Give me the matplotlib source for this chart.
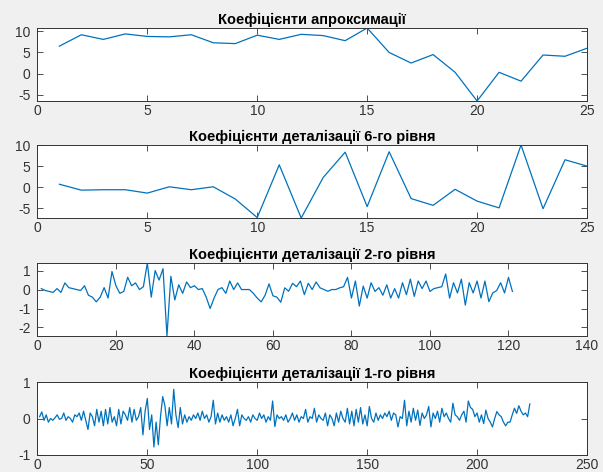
import numpy as np
import matplotlib
matplotlib.use("Agg")
import matplotlib.pyplot as plt

# Wavelet decomposition coefficients (db10, 6 levels)
approx = [6.5, 9.2, 8.1, 9.4, 8.8, 8.7, 9.2, 7.3, 7.1, 9.1,
          8.1, 9.3, 9.0, 7.8, 10.8, 5.0, 2.5, 4.5, 0.3, -6.5,
          0.3, -1.8, 4.4, 4.1, 6.0]

detail6 = [0.7, -0.7, -0.6, -0.6, -1.4, 0.1, -0.6, 0.1, -2.8, -7.2,
           5.3, -7.3, 2.3, 8.3, -4.6, 8.4, -2.7, -4.3, -0.5, -3.3,
           -4.9, 10.0, -5.1, 6.5, 5.0]

detail2 = [0.05, -0.05, -0.1, -0.15, 0.05, -0.15, 0.35, 0.1, 0.05, 0.0,
           -0.05, 0.2, -0.3, -0.4, -0.65, -0.4, 0.1, -0.45, 0.95, 0.2,
           -0.2, -0.1, 0.65, 0.2, 0.35, 0.0, 0.15, 1.4, -0.4, 1.0,
           0.5, 1.1, -2.45, 0.7, -0.55, 0.25, -0.2, 0.4, 0.1, 0.2,
           0.0, 0.05, -0.4, -1.0, -0.45, 0.0, 0.1, -0.2, 0.45, 0.0,
           0.35, 0.0, 0.0, 0.0, -0.2, -0.45, -0.65, -0.3, 0.3, -0.33,
           -0.4, -0.67, 0.09, -0.09, 0.33, 0.15, 0.45, -0.27, 0.33, 0.0,
           0.4, 0.09, 0.0, -0.09, 0.0, 0.0, 0.09, 0.15, 0.64, -0.45,
           0.45, -0.87, 0.18, -0.45, 0.36, -0.1, 0.1, -0.3, 0.25, -0.45,
           0.05, -0.45, 0.36, -0.27, 0.55, -0.36, 0.45, 0.05, 0.45, -0.1,
           0.05, 0.1, 0.15, 0.82, -0.45, 0.36, -0.18, 0.55, -0.82, 0.36,
           -0.18, 0.45, -0.45, 0.45, -0.64, -0.18, -0.05, 0.36, -0.18, 0.64,
           -0.1]

detail1 = [0.05, 0.18, -0.05, 0.1, -0.1, 0.0, -0.05, 0.02, 0.1, -0.02,
           0.0, 0.15, -0.05, 0.05, 0.0, -0.1, 0.1, 0.05, 0.15, -0.05,
           0.2, -0.05, -0.3, 0.15, 0.05, -0.2, 0.25, -0.1, 0.2, -0.2,
           0.25, -0.15, 0.3, -0.1, 0.05, -0.2, 0.25, -0.15, 0.2, 0.1,
           -0.05, 0.3, -0.1, 0.25, -0.05, 0.05, 0.3, -0.45, 0.2, 0.55,
           -0.3, 0.1, -0.78, -0.1, -0.72, 0.05, 0.6, 0.35, -0.2, 0.3,
           -0.15, 0.8, 0.1, -0.25, 0.3, -0.15, 0.1, -0.1, 0.05, -0.05,
           0.1, 0.0, 0.15, -0.05, 0.2, 0.0, 0.1, -0.1, 0.05, 0.5,
           -0.15, 0.15, -0.1, 0.1, -0.05, 0.05, -0.1, 0.1, -0.2, 0.0,
           0.25, -0.2, 0.1, 0.0, -0.05, 0.05, -0.1, 0.1, 0.0, -0.05,
           0.15, 0.0, 0.1, -0.1, 0.05, -0.05, 0.48, -0.22, 0.1, 0.0,
           0.05, -0.05, 0.1, -0.1, 0.0, 0.15, -0.05, 0.1, -0.1, 0.05,
           0.0, 0.25, -0.1, 0.05, 0.0, 0.28, -0.1, 0.1, 0.0, -0.05,
           0.15, -0.2, 0.1, 0.0, -0.2, 0.15, -0.1, 0.2, 0.0, -0.1,
           0.28, -0.15, 0.2, -0.2, 0.25, -0.1, 0.3, -0.15, 0.1, -0.2,
           0.33, 0.0, -0.1, 0.15, -0.05, 0.1, 0.0, 0.15, 0.05, 0.2,
           -0.05, 0.15, 0.1, -0.23, 0.05, 0.0, 0.5, -0.2, 0.2, -0.1,
           0.28, -0.05, 0.23, -0.19, 0.15, 0.0, 0.1, 0.33, -0.23, 0.15,
           0.0, 0.2, -0.1, 0.28, 0.05, 0.15, 0.0, -0.1, 0.42, 0.1,
           0.05, -0.05, 0.1, 0.2, -0.1, 0.48, 0.3, 0.25, 0.05, 0.15,
           -0.1, 0.1, -0.14, 0.23, 0.0, -0.1, -0.23, 0.0, 0.19, 0.1,
           0.05, -0.1, -0.2, -0.1, -0.1, 0.1, 0.28, 0.14, 0.35, 0.2,
           0.1, 0.15, 0.05, 0.4]

titles = ["Коефіцієнти апроксимації",
          "Коефіцієнти деталізації 6-го рівня",
          "Коефіцієнти деталізації 2-го рівня",
          "Коефіцієнти деталізації 1-го рівня"]
series = [approx, detail6, detail2, detail1]
xlims = [(0, 25), (0, 25), (0, 140), (0, 250)]
xticks = [np.arange(0, 26, 5), np.arange(0, 26, 5),
          np.arange(0, 141, 20), np.arange(0, 251, 50)]
yticks = [[-5, 0, 5, 10], [-5, 0, 5, 10], [-2, -1, 0, 1], [-1, 0, 1]]
ylims = [None, None, None, (-1, 1)]

plt.rcParams["font.family"] = ["Liberation Sans", "DejaVu Sans"]
plt.rcParams["axes.unicode_minus"] = False

W, H = 603, 472
fig = plt.figure(figsize=(W / 100, H / 100), dpi=100, facecolor="#f0f0f0")

left, right = 37.4, 587.0
bottoms = [101, 218, 336, 455]
ax_h = 73

line_color = "#0072bd"
axis_color = "#333333"

for k in range(4):
    ax = fig.add_axes([left / W, 1 - bottoms[k] / H, (right - left) / W, ax_h / H])
    y = np.asarray(series[k])
    x = np.arange(1, len(y) + 1)
    ax.plot(x, y, color=line_color, lw=0.9)
    ax.set_xlim(*xlims[k])
    if ylims[k] is None:
        ax.set_ylim(y.min(), y.max())
    else:
        ax.set_ylim(*ylims[k])
    ax.set_xticks(xticks[k])
    ax.set_yticks(yticks[k])
    ax.tick_params(direction="in", length=4, width=0.6, colors=axis_color,
                   labelsize=10, top=True, right=True, pad=2)
    ax.tick_params(axis="y", pad=5)
    for s in ax.spines.values():
        s.set_color(axis_color)
        s.set_linewidth(0.7)
    ax.set_title(titles[k], fontsize=10.5, fontweight="bold", color="black", pad=3)

fig.savefig("out.png", dpi=100, facecolor=fig.get_facecolor())
